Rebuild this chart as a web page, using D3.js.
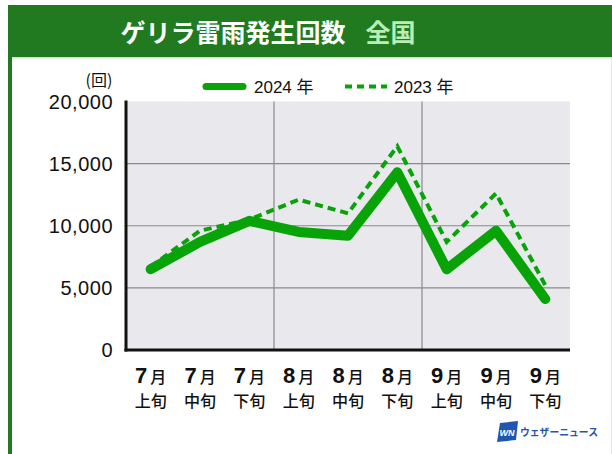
<!DOCTYPE html>
<html><head><meta charset="utf-8">
<script src="https://cdn.jsdelivr.net/npm/d3@7"></script>
<style>
html,body{margin:0;padding:0;background:#fff;}
svg{display:block;}
text{font-family:"Liberation Sans","Noto Sans CJK JP",sans-serif;}
</style></head>
<body>
<svg id="c" width="612" height="454"></svg>
<script>
const months = ["7月","7月","7月","8月","8月","8月","9月","9月","9月"];
const periods = ["上旬","中旬","下旬","上旬","中旬","下旬","上旬","中旬","下旬"];
const categories = months.map((m,i)=>m+periods[i]);
const values2024 = [6500, 8700, 10400, 9500, 9200, 14300, 6500, 9600, 4100];
const values2023 = [6700, 9600, 10500, 12100, 11000, 16400, 8700, 12600, 5200];
const yTicks = [0, 5000, 10000, 15000, 20000];
const seriesNames = ["2024 年", "2023 年"];

(function(){
const svg = d3.select("#c");
const green = "#07a307";
const headerGreen = "#217a20";

// Frame
svg.append("rect").attr("x",8).attr("y",5).attr("width",604).attr("height",52).attr("fill",headerGreen);
svg.append("rect").attr("x",8).attr("y",57).attr("width",4).attr("height",397).attr("fill",headerGreen);
svg.append("rect").attr("x",12).attr("y",57).attr("width",600).attr("height",1.5).attr("fill","#cfe8cc");
svg.append("line").attr("x1",611.5).attr("x2",611.5).attr("y1",58).attr("y2",454).attr("stroke","#e6e6e6");

// Title
const title = svg.append("text").attr("x",268).attr("y",42).attr("text-anchor","middle")
  .attr("font-size",25).attr("font-weight","bold")
  .style("font-family","'Noto Sans CJK JP',sans-serif");
title.append("tspan").attr("fill","#fff").text("ゲリラ雷雨発生回数");
title.append("tspan").attr("fill","#b9efb3").attr("dx",20).text("全国");

// Scales
const pL=126, pR=570, pT=101.5, pB=350;
const x = d3.scaleBand().domain(categories).range([pL,pR]);
const y = d3.scaleLinear().domain([0,20000]).range([pB,pT]);

// Plot background
svg.append("rect").attr("x",pL).attr("y",pT).attr("width",pR-pL).attr("height",pB-pT).attr("fill","#e8e8ed");

// Grid lines
svg.append("g").selectAll("line").data(yTicks.filter(d=>d>0 && d<20000)).join("line")
  .attr("x1",pL).attr("x2",pR).attr("y1",d=>y(d)).attr("y2",d=>y(d))
  .attr("stroke","#8a8a8e").attr("stroke-width",1.2);
svg.append("g").selectAll("line").data([categories[3],categories[6]]).join("line")
  .attr("x1",d=>x(d)).attr("x2",d=>x(d)).attr("y1",pT).attr("y2",pB)
  .attr("stroke","#8a8a8e").attr("stroke-width",1.2);

// Axes lines
svg.append("line").attr("x1",pL).attr("x2",pL).attr("y1",pT-1).attr("y2",pB+1.5).attr("stroke","#111").attr("stroke-width",3);
svg.append("line").attr("x1",pL-1.5).attr("x2",pR).attr("y1",pB).attr("y2",pB).attr("stroke","#111").attr("stroke-width",3);

// Y tick labels
const fmt = d3.format(",");
svg.append("g").selectAll("text").data(yTicks).join("text")
  .attr("x",113).attr("y",d=>y(d)).attr("dy","0.36em").attr("text-anchor","end")
  .attr("font-size",20).attr("fill","#111").style("letter-spacing","0.5px")
  .text(d=>fmt(d));
svg.append("text").attr("x",99).attr("y",86).attr("text-anchor","middle").attr("font-size",16).attr("fill","#111")
  .style("font-family","'Noto Sans CJK JP',sans-serif").text("(回)");

// X labels
const xl = svg.append("g").selectAll("g").data(categories).join("g")
  .attr("transform",d=>`translate(${x(d)+x.bandwidth()/2},0)`);
xl.each(function(d,i){
  const g=d3.select(this);
  const t=g.append("text").attr("y",383).attr("text-anchor","middle").attr("fill","#111");
  t.append("tspan").attr("font-size",22).attr("font-weight","bold").text(months[i].slice(0,1));
  t.append("tspan").attr("font-size",16).attr("dx",3).attr("font-weight","500").style("font-family","'Noto Sans CJK JP',sans-serif").text(months[i].slice(1));
  g.append("text").attr("y",407).attr("text-anchor","middle").attr("font-size",16).attr("fill","#111")
   .style("font-family","'Noto Sans CJK JP',sans-serif").attr("font-weight","500").text(periods[i]);
});

// Lines
const line = d3.line().x((d,i)=>x(categories[i])+x.bandwidth()/2).y(d=>y(d));
svg.append("path").datum(values2023).attr("d",line).attr("fill","none").attr("stroke",green)
  .attr("stroke-width",4).attr("stroke-dasharray","8,5");
svg.append("path").datum(values2024).attr("d",line).attr("fill","none").attr("stroke",green)
  .attr("stroke-width",10).attr("stroke-linejoin","round").attr("stroke-linecap","round");

// Legend
svg.append("line").attr("x1",206).attr("x2",243).attr("y1",86.5).attr("y2",86.5).attr("stroke",green).attr("stroke-width",7).attr("stroke-linecap","round");
svg.append("text").attr("x",254).attr("y",93).attr("font-size",17).attr("fill","#111").text(seriesNames[0]);
svg.append("line").attr("x1",345).attr("x2",387).attr("y1",86.5).attr("y2",86.5).attr("stroke",green).attr("stroke-width",4).attr("stroke-dasharray","7,5");
svg.append("text").attr("x",394).attr("y",93).attr("font-size",17).attr("fill","#111").text(seriesNames[1]);

// Logo
const logo = svg.append("g");
logo.append("path").attr("d","M500,423 L518,421 L516,440 L497,442 Z").attr("fill","#1f56b0");
logo.append("text").attr("x",507).attr("y",435.5).attr("text-anchor","middle").attr("font-size",9).attr("font-weight","bold").attr("font-style","italic").attr("fill","#fff").text("WN");
logo.append("text").attr("x",520).attr("y",436).attr("font-size",10).attr("font-weight","bold").attr("fill","#1f56b0")
  .attr("textLength",78).attr("lengthAdjust","spacingAndGlyphs")
  .style("font-family","'Noto Sans CJK JP',sans-serif").text("ウェザーニュース");
})();
</script>
</body></html>
